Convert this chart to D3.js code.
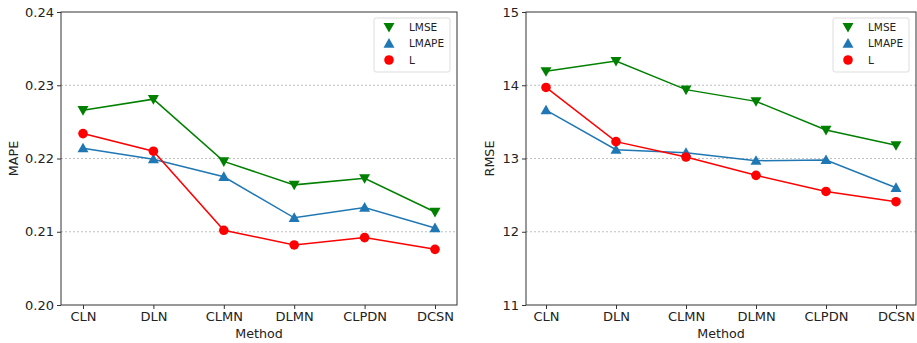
<!DOCTYPE html>
<html>
<head>
<meta charset="utf-8">
<script src="https://cdn.jsdelivr.net/npm/d3@7"></script>
<style>
    body { margin: 0; background: #fff; }
    svg { display: block; font-family: 'DejaVu Sans', sans-serif; }
    .grid line { stroke: #b0b0b0; stroke-dasharray: 2,2; stroke-width: 0.8; }
</style>
</head>
<body>
<svg id="chart" width="917" height="343"></svg>
<script>
const methods = ['CLN', 'DLN', 'CLMN', 'DLMN', 'CLPDN', 'DCSN'];

const mapeLMSE  = [0.2266, 0.2281, 0.2196, 0.2164, 0.2173, 0.2127];
const mapeLMAPE = [0.2214, 0.2199, 0.2175, 0.2119, 0.2133, 0.2105];
const mapeL     = [0.2234, 0.2210, 0.2102, 0.2082, 0.2092, 0.2076];

const rmseLMSE  = [14.19, 14.33, 13.94, 13.78, 13.39, 13.18];
const rmseLMAPE = [13.66, 13.12, 13.08, 12.97, 12.98, 12.60];
const rmseL     = [13.97, 13.23, 13.02, 12.77, 12.55, 12.41];

const mapeTicks = [0.20, 0.21, 0.22, 0.23, 0.24];
const rmseTicks = [11, 12, 13, 14, 15];

const seriesNames = ['LMSE', 'LMAPE', 'L'];
const seriesColors = ['#008000', '#1f77b4', '#ff0000'];
const seriesSymbols = ['down', 'up', 'circle'];

const svg = d3.select('#chart');

function marker(g, kind, x, y, color) {
    if (kind === 'circle') {
        g.append('circle').attr('cx', x).attr('cy', y).attr('r', 4.8).attr('fill', color);
    } else {
        const s = 5.5;
        const pts = kind === 'up'
            ? [[x, y - s], [x - s, y + s * 0.75], [x + s, y + s * 0.75]]
            : [[x, y + s], [x - s, y - s * 0.75], [x + s, y - s * 0.75]];
        g.append('polygon').attr('points', pts.map(p => p.join(',')).join(' ')).attr('fill', color);
    }
}

function drawPanel(opts) {
    const {left, right, top, bottom, xFirst, xLast, domain, ticks, fmt, yLabel, yLabelX, data} = opts;
    const root = svg.append('g');

    const xScale = d3.scalePoint().domain(methods).range([xFirst, xLast]);
    const yScale = d3.scaleLinear().domain(domain).range([bottom, top]);

    // grid lines at inner ticks
    root.append('g')
        .attr('class', 'grid')
        .selectAll('line')
        .data(ticks.slice(1, -1))
        .enter()
        .append('line')
        .attr('x1', left).attr('x2', right)
        .attr('y1', d => yScale(d)).attr('y2', d => yScale(d));

    // series
    data.forEach((vals, si) => {
        const line = d3.line().x((_, i) => xScale(methods[i])).y(d => yScale(d));
        root.append('path')
            .attr('d', line(vals))
            .attr('fill', 'none')
            .attr('stroke', seriesColors[si])
            .attr('stroke-width', 1.5);
        vals.forEach((v, i) => marker(root, seriesSymbols[si], xScale(methods[i]), yScale(v), seriesColors[si]));
    });

    // frame
    root.append('rect')
        .attr('x', left).attr('y', top)
        .attr('width', right - left).attr('height', bottom - top)
        .attr('fill', 'none').attr('stroke', '#333').attr('stroke-width', 1);

    const xAxis = root.append('g')
        .attr('transform', `translate(0, ${bottom})`)
        .call(d3.axisBottom(xScale).tickSize(4).tickPadding(3));
    xAxis.select('.domain').remove();
    xAxis.selectAll('text').attr('font-size', 13).attr('fill', '#222').attr('font-family', 'DejaVu Sans');
    xAxis.selectAll('line').attr('stroke', '#333');

    const yAxis = root.append('g')
        .attr('transform', `translate(${left}, 0)`)
        .call(d3.axisLeft(yScale).tickValues(ticks).tickFormat(fmt).tickSize(4).tickPadding(3));
    yAxis.select('.domain').remove();
    yAxis.selectAll('text').attr('font-size', 13).attr('fill', '#222').attr('font-family', 'DejaVu Sans');
    yAxis.selectAll('line').attr('stroke', '#333');

    root.append('text')
        .text('Method')
        .attr('x', (left + right) / 2)
        .attr('y', 338)
        .attr('text-anchor', 'middle')
        .attr('font-size', 12.7)
        .attr('fill', '#222');

    root.append('text')
        .text(yLabel)
        .attr('transform', `translate(${yLabelX}, ${(top + bottom) / 2}) rotate(-90)`)
        .attr('text-anchor', 'middle')
        .attr('font-size', 12.7)
        .attr('fill', '#222');

    // legend
    const lg = root.append('g');
    lg.append('rect')
        .attr('x', right - 83).attr('y', 18)
        .attr('width', 76).attr('height', 54)
        .attr('rx', 2)
        .attr('fill', '#fff').attr('stroke', '#ddd');
    seriesNames.forEach((name, i) => {
        const y = 27 + i * 16.5;
        marker(lg, seriesSymbols[i], right - 68, y, seriesColors[i]);
        lg.append('text')
            .text(name)
            .attr('x', right - 48)
            .attr('y', y + 3.8)
            .attr('font-size', 10.5)
            .attr('fill', '#222');
    });
}

drawPanel({
    left: 61, right: 457, top: 12, bottom: 305,
    xFirst: 83, xLast: 435,
    domain: [0.20, 0.24], ticks: mapeTicks, fmt: d3.format('.2f'),
    yLabel: 'MAPE', yLabelX: 18,
    data: [mapeLMSE, mapeLMAPE, mapeL]
});

drawPanel({
    left: 526, right: 916, top: 12, bottom: 305,
    xFirst: 546, xLast: 896,
    domain: [11, 15], ticks: rmseTicks, fmt: d3.format('d'),
    yLabel: 'RMSE', yLabelX: 494,
    data: [rmseLMSE, rmseLMAPE, rmseL]
});
</script>
</body>
</html>
